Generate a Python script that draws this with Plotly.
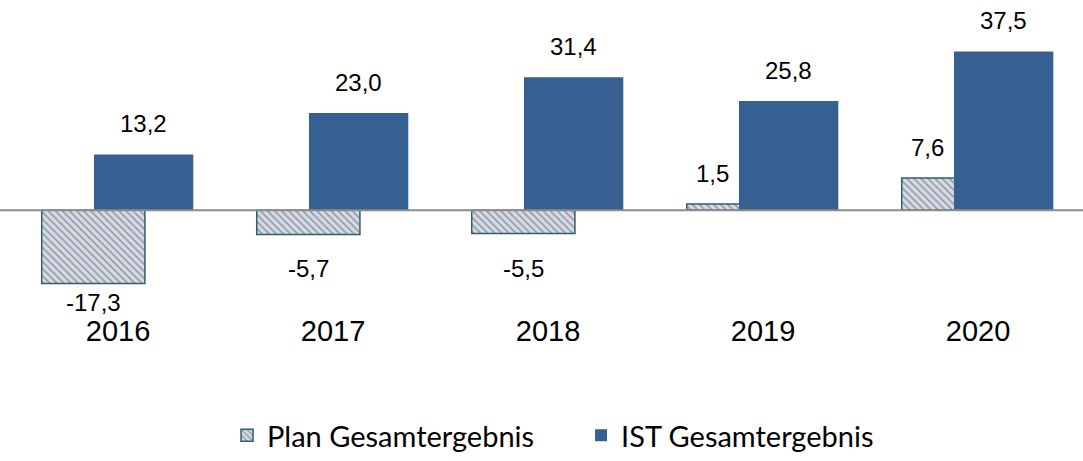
import plotly.graph_objects as go

years = ["2016", "2017", "2018", "2019", "2020"]
plan = [-17.3, -5.7, -5.5, 1.5, 7.6]
ist = [13.2, 23.0, 31.4, 25.8, 37.5]
plan_name = "Plan Gesamtergebnis"
ist_name = "IST Gesamtergebnis"

def fmt(v):
    return f"{v:.1f}".replace(".", ",")

IST_COLOR = "#376092"
x_idx = list(range(len(years)))
LABEL_FONT = dict(family="Liberation Sans, Arial", size=24, color="#000")

PLAN_OFF, PLAN_W = -0.355, 0.48
IST_OFF, IST_W = -0.112, 0.462

fig = go.Figure()
fig.add_trace(go.Bar(
    x=x_idx, y=plan, name=plan_name,
    offset=PLAN_OFF, width=PLAN_W,
    marker=dict(color="#d9d9d9",
                line=dict(color="#2f5f6e", width=1.5),
                pattern=dict(shape="\\", fgcolor="#2f5597", bgcolor="#dadada",
                             size=5, solidity=0.3)),
))
fig.add_trace(go.Bar(
    x=x_idx, y=ist, name=ist_name,
    offset=IST_OFF, width=IST_W,
    marker=dict(color=IST_COLOR, line=dict(width=0)),
))

plan_center = PLAN_OFF + PLAN_W / 2
plan_visible_center = (PLAN_OFF + IST_OFF) / 2
ist_center = IST_OFF + IST_W / 2
neg_shift = [-3, -19, -19, 0, 0]
for i, v in enumerate(plan):
    if v < 0:
        fig.add_annotation(x=i + plan_center, y=v, text=fmt(v), showarrow=False,
                           yanchor="top", yshift=neg_shift[i], font=LABEL_FONT)
    else:
        fig.add_annotation(x=i + plan_visible_center, y=v, text=fmt(v), showarrow=False,
                           yanchor="bottom", yshift=15, font=LABEL_FONT)
for i, v in enumerate(ist):
    fig.add_annotation(x=i + ist_center, y=v, text=fmt(v), showarrow=False,
                       yanchor="bottom", yshift=15, font=LABEL_FONT)

# zero line across full width
fig.add_shape(type="line", xref="paper", x0=0, x1=1, yref="y", y0=0, y1=0,
              line=dict(color="#8c8c8c", width=2), layer="above")

fig.update_layout(
    width=1083, height=461,
    margin=dict(l=0, r=0, t=0, b=148),
    paper_bgcolor="white", plot_bgcolor="white",
    barmode="overlay",
    showlegend=True,
    legend=dict(orientation="h", x=0.5365, xanchor="center", y=-0.409, yanchor="middle",
                font=dict(family="Lato, Carlito, Calibri", size=29, color="#000"),
                itemwidth=30, entrywidth=309, traceorder="normal"),
    xaxis=dict(tickmode="array", tickvals=x_idx, ticktext=years, automargin=False,
               range=[-0.549, 4.488], showgrid=False, showline=False, zeroline=False,
               ticks="", ticklabelstandoff=2,
               tickfont=dict(family="Liberation Sans, Arial", size=29, color="#000")),
    yaxis=dict(range=[-23.3, 49.65], visible=False, automargin=False),
)

fig.write_html("out.html",
               config={"displayModeBar": False},
               post_script="document.body.style.margin='0';document.body.style.overflow='hidden';")
